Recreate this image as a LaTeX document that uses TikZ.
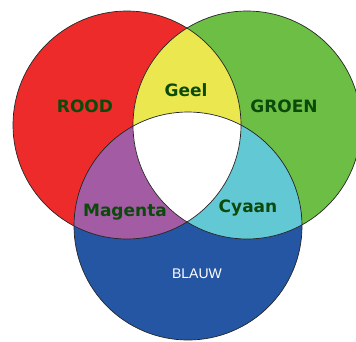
\documentclass[tikz,border=0pt]{standalone}
\usepackage{fontspec}
\newfontfamily\labelfont{DejaVu Sans}
\newfontfamily\blauwfont{Liberation Sans}
\usepackage{tikz}

\definecolor{rood}{HTML}{EE2B2B}
\definecolor{groen}{HTML}{6DBE45}
\definecolor{blauw}{HTML}{2556A4}
\definecolor{geel}{HTML}{EAE84E}
\definecolor{magenta}{HTML}{A35BA3}
\definecolor{cyaan}{HTML}{62C8D4}
\definecolor{donkergroen}{HTML}{0B4A0B}

\begin{document}
\begin{tikzpicture}[x=1pt, y=-1pt]
    \tikzstyle{rand} = [draw=black!85, line width=0.7pt]
    \tikzstyle{kleur} = [font=\labelfont\bfseries\fontsize{17}{17}\selectfont,
	text=donkergroen, inner sep=0pt]
	\useasboundingbox (0,0) rectangle (356,341);
	\coordinate (R) at (127,125);
	\coordinate (G) at (247,125);
	\coordinate (B) at (188,226);
	
	% primaire kleuren
	\fill[rood] (R) circle (114pt);
	\fill[groen] (G) circle (114pt);
	\fill[blauw] (B) circle (114pt);
	
	% mengkleuren
	\begin{scope}
		\clip (R) circle (114pt);
		\fill[geel] (G) circle (114pt);
		\fill[magenta] (B) circle (114pt);
	\end{scope}
	\begin{scope}
		\clip (G) circle (114pt);
		\fill[cyaan] (B) circle (114pt);
		\clip (R) circle (114pt);
		\fill[white] (B) circle (114pt);
	\end{scope}
	
	\path[rand] (R) circle (114pt);
	\path[rand] (G) circle (114pt);
	\path[rand] (B) circle (114pt);
	
	\node[kleur] (rood) at (85,106) {ROOD};
	\node[kleur] (groen) at (284,106) {GROEN};
	\node[kleur] (geel) at (186,90) {Geel};
	\node[kleur] (magenta) at (125,212) {Magenta};
	\node[kleur] (cyaan) at (248,208) {Cyaan};
	\node[font=\blauwfont\fontsize{14}{14}\selectfont, text=white] (blauw) at (197,274) {BLAUW};
\end{tikzpicture}
\end{document}
